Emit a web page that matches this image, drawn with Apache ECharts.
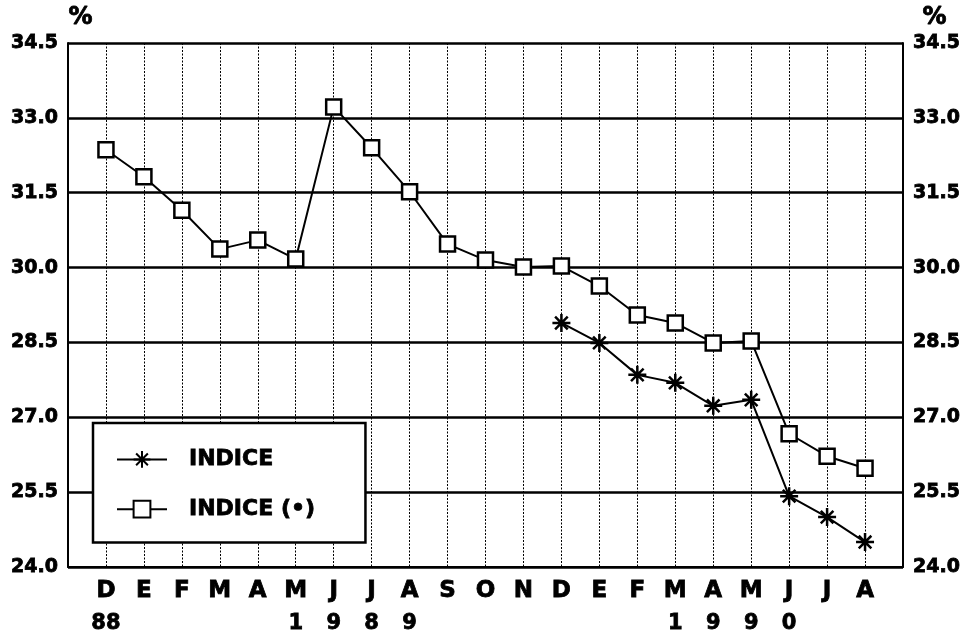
<!DOCTYPE html>
<html>
<head>
<meta charset="utf-8">
<script src="https://cdn.jsdelivr.net/npm/echarts@6/dist/echarts.min.js"></script>
<style>
  html, body { margin: 0; padding: 0; background: #fff; }
  #chart { width: 968px; height: 634px; }
</style>
</head>
<body>
<div id="chart"></div>
<script>
// Monthly readings, December 1988 to August 1990
const months = ['D','E','F','M','A','M','J','J','A','S','O','N','D','E','F','M','A','M','J','J','A'];
const years  = ['88','','','','','1','9','8','9','','','','','','','1','9','9','0','',''];
const indice = [null,null,null,null,null,null,null,null,null,null,null,null,
                28.89,28.49,27.85,27.69,27.23,27.35,25.42,25.00,24.50];
const indiceAdj = [32.36,31.82,31.15,30.37,30.55,30.17,33.22,32.40,31.52,30.47,30.15,30.01,
                   30.03,29.63,29.05,28.89,28.49,28.53,26.67,26.22,25.98];
const yTicks = { min: 24.0, max: 34.5, step: 1.5 };

// One empty slot on each side so the months sit between the frame edges
const cats = [''].concat(months.map((m, i) => m + i)).concat(['']);
const pad = arr => [null].concat(arr).concat([null]);

const FONT = 'DejaVu Sans';
const heavy = { fontFamily: FONT, fontWeight: 'bold', color: '#000',
                textBorderColor: '#000', textBorderWidth: 0.8 };
const asterisk = 'path://M0,10L20,10M10,0L10,20M3,3L17,17M17,3L3,17';

const chart = echarts.init(document.getElementById('chart'), null, { renderer: 'canvas' });

const yAxisBase = {
  type: 'value',
  min: yTicks.min,
  max: yTicks.max,
  interval: yTicks.step,
  axisTick: { show: false },
  axisLine: { show: true, lineStyle: { color: '#000', width: 2 } },
  axisLabel: Object.assign({}, heavy, {
    fontSize: 19,
    margin: 10,
    formatter: v => v.toFixed(1)
  })
};

chart.setOption({
  animation: false,
  backgroundColor: '#fff',
  grid: { left: 68, right: 65, top: 43, bottom: 67, containLabel: false,
          outerBoundsMode: 'none' },
  graphic: [
    { type: 'text', left: 68, top: 5,
      style: { text: '%', fill: '#000', stroke: '#000', lineWidth: 0.8,
               font: 'bold 24px "DejaVu Sans"' } },
    { type: 'text', left: 922, top: 5,
      style: { text: '%', fill: '#000', stroke: '#000', lineWidth: 0.8,
               font: 'bold 24px "DejaVu Sans"' } }
  ],
  legend: {
    orient: 'vertical',
    left: 93, top: 423,
    padding: [25, 50, 22, 23],
    itemWidth: 50, itemHeight: 21, itemGap: 27,
    backgroundColor: '#fff',
    borderColor: '#000', borderWidth: 2.5,
    textStyle: Object.assign({}, heavy, { fontSize: 22, padding: [0, 0, 0, 17] }),
    data: ['INDICE', 'INDICE (•)']
  },
  xAxis: {
    type: 'category',
    data: cats,
    boundaryGap: false,
    axisTick: { show: false },
    axisLine: { show: true, lineStyle: { color: '#000', width: 2 } },
    splitLine: { show: true, lineStyle: { color: '#000', width: 1, type: [2, 1.5] } },
    axisLabel: {
      interval: 0,
      margin: 7,
      formatter: (v, idx) => {
        if (idx < 1 || idx > months.length) return '';
        const y = years[idx - 1] || ' ';
        return '{m|' + months[idx - 1] + '}\n{y|' + y + '}';
      },
      rich: {
        m: Object.assign({}, heavy, { fontSize: 23, lineHeight: 34 }),
        y: Object.assign({}, heavy, { fontSize: 21, lineHeight: 32 })
      }
    }
  },
  yAxis: [
    Object.assign({}, yAxisBase, {
      position: 'left',
      splitLine: { show: true, lineStyle: { color: '#000', width: 2.5 } }
    }),
    Object.assign({}, yAxisBase, {
      position: 'right',
      splitLine: { show: false }
    })
  ],
  series: [
    {
      name: 'INDICE',
      type: 'line',
      data: pad(indice),
      connectNulls: false,
      symbol: asterisk,
      symbolSize: 18,
      lineStyle: { color: '#000', width: 2 },
      itemStyle: { color: 'none', borderColor: '#000', borderWidth: 2.5 },
      z: 3
    },
    {
      name: 'INDICE (•)',
      type: 'line',
      data: pad(indiceAdj),
      symbol: 'rect',
      symbolSize: 15,
      lineStyle: { color: '#000', width: 2 },
      itemStyle: { color: '#fff', borderColor: '#000', borderWidth: 2.5 },
      z: 3
    }
  ]
});
</script>
</body>
</html>
